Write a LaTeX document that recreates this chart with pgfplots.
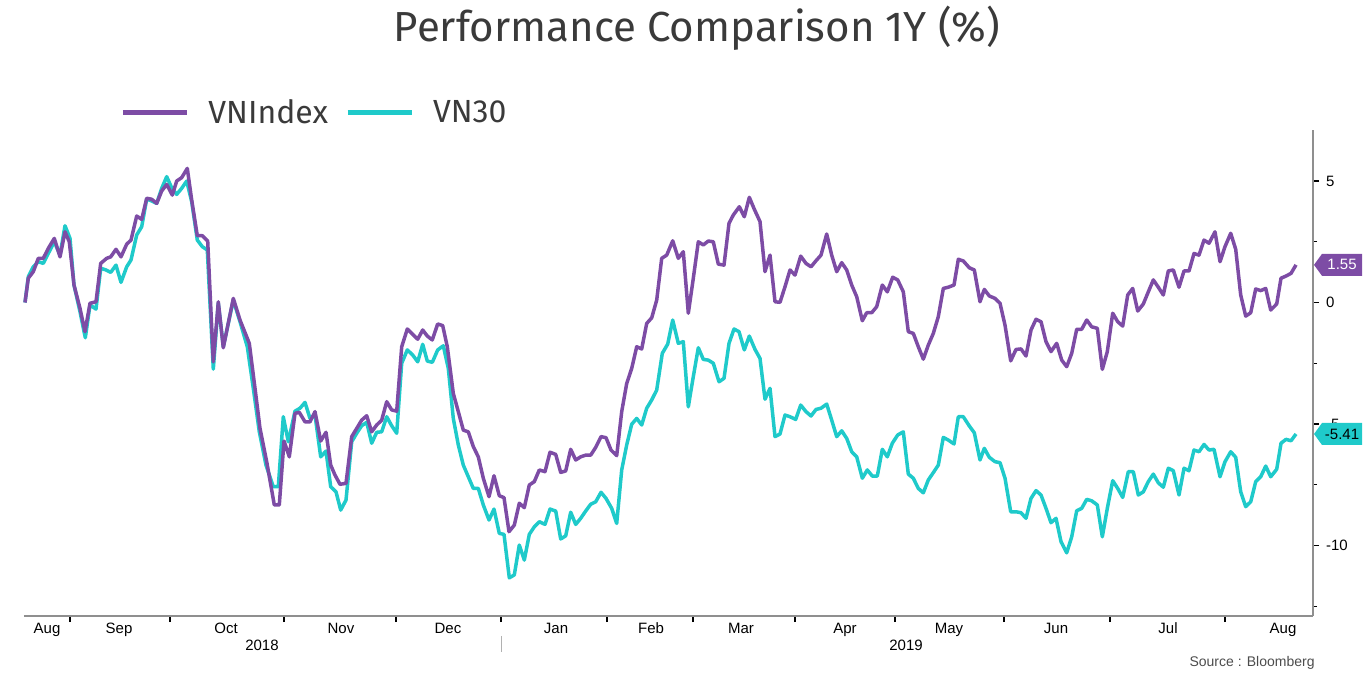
\documentclass[border=0pt]{standalone}
\usepackage{fontspec}
\setmainfont{Liberation Sans}
\newfontfamily\titlefont{Fira Sans}
\usepackage{pgfplots}
\pgfplotsset{compat=1.18}
\definecolor{vnpurple}{HTML}{7D4CA5}
\definecolor{vncyan}{HTML}{1FCACA}
\definecolor{axisgray}{HTML}{8F8F8F}
\definecolor{titlegray}{HTML}{3A3A3A}

\begin{document}
\begin{tikzpicture}
\useasboundingbox (0,0) rectangle (684.5pt,342.5pt);
\node[font=\titlefont\fontsize{21}{25}\selectfont, text=titlegray] at (348.5pt,328.5pt) {Performance Comparison 1Y (\%)};
\node[font=\fontsize{7}{8}\selectfont, text=black!70, anchor=east, inner sep=0pt] at (657.5pt,11pt) {Source : Bloomberg};
\begin{axis}[
  at={(12pt,34.5pt)}, anchor=south west,
  width=644.5pt, height=243pt, scale only axis,
  xmin=0, xmax=1289, ymin=-12.9, ymax=7.1,
  axis x line*=bottom, axis y line*=right,
  axis line style={axisgray, line width=0.8pt},
  tick align=outside,
  major tick length=3pt, minor tick length=2pt,
  tick style={black, line width=0.6pt},
  xtick={46,146,260,372,477,583,669,771,871,980,1086,1201},
  xticklabels={},
  extra x ticks={23,95,202,317,424,532,627,717,821,925,1032,1144,1259},
  extra x tick labels={Aug,Sep,Oct,Nov,Dec,Jan,Feb,Mar,Apr,May,Jun,Jul,Aug},
  extra x tick style={major tick length=0pt},
  ytick={-10,-5,0,5}, yticklabels={-10,-5,0,5},
  minor ytick={-12.5,-7.5,-2.5,2.5},
  tick label style={font=\fontsize{7.5}{9}\selectfont},
  clip=false,
  legend columns=-1, reverse legend,
  legend style={draw=none, fill=none, at={(0.0745,1.035)}, anchor=west,
    inner sep=0pt, nodes={inner sep=0pt},
    font=\titlefont\fontsize{16}{19}\selectfont, text=titlegray,
    column sep=9.5pt, /tikz/every even column/.append style={column sep=8.5pt}},
  legend image code/.code={\draw[#1, line width=2.5pt] (0pt,0pt) -- (32pt,0pt);},
]
% VN30
\addplot[vncyan, line width=1.75pt, line join=round] coordinates {
(1,0.00) (4.3,1.06) (9.3,1.47) (14.3,1.68) (19.3,1.61) (24.3,2.02) (30.3,2.50) (36,1.95) (41,3.16) (46,2.64)
(50,0.72) (56,-0.38) (61.3,-1.45) (66,-0.10) (72,-0.27) (76.7,1.41) (82,1.34) (86.7,1.24) (92,1.54) (97,0.83)
(102.7,1.47) (107,1.75) (112.7,2.78) (117.7,3.12) (122.7,4.26) (127.7,4.18) (132.7,4.08) (137.7,4.70) (142.7,5.18) (147.7,4.72)
(152.7,4.45) (157.7,4.70) (162.7,5.00) (167.7,4.15) (173.3,2.57) (178.3,2.30) (183.3,2.16) (189.3,-2.74) (194.3,-0.03) (199.3,-1.82)
(209.3,0.10) (216,-0.79) (223.3,-1.82) (229.3,-3.53) (235.3,-5.32) (242,-6.69) (249.3,-7.58) (254.3,-7.58) (259.3,-4.70) (264.3,-5.73)
(271,-4.47) (276,-4.35) (281,-4.11) (286,-4.77) (291,-4.63) (296.7,-6.35) (302,-6.11) (306.7,-7.58) (312,-7.79) (316.7,-8.54)
(322,-8.13) (327.7,-5.73) (332.7,-5.38) (337.7,-5.07) (342.7,-4.93) (347.7,-5.79) (352.7,-5.34) (357.7,-5.32) (362.7,-4.70) (367.7,-5.07)
(372.7,-5.38) (377.7,-2.50) (383.3,-1.95) (388.7,-2.16) (393.7,-2.44) (398.7,-1.72) (403.3,-2.41) (408.3,-2.46) (413.7,-1.95) (419.3,-1.78)
(424.3,-2.71) (429.3,-4.77) (434.3,-5.86) (439.3,-6.69) (444.3,-7.17) (449.3,-7.65) (454.3,-7.65) (459.3,-8.33) (465,-8.95) (470,-8.50)
(475.3,-9.50) (480,-9.54) (485.3,-11.33) (490.3,-11.21) (495.3,-9.98) (500.3,-10.60) (505.3,-9.54) (510.3,-9.23) (515.3,-9.02) (521,-9.13)
(526,-8.50) (531.7,-8.58) (536.7,-9.73) (541.7,-9.60) (546.7,-8.63) (551.7,-9.13) (556.7,-8.88) (561.7,-8.58) (566.7,-8.30) (571.7,-8.20)
(577,-7.81) (582,-8.06) (587.7,-8.47) (592.7,-9.09) (597.7,-6.89) (602.7,-5.86) (607.7,-5.01) (612.7,-4.77) (617.7,-5.04) (622.7,-4.35)
(627.7,-4.01) (632.7,-3.60) (638.3,-2.09) (643.7,-1.71) (648.7,-0.72) (654.3,-1.68) (659.3,-1.61) (664.3,-4.29) (669.3,-3.05) (674.3,-1.86)
(679.3,-2.34) (684.3,-2.37) (689.3,-2.50) (695,-3.26) (700,-3.12) (705,-1.68) (710,-1.09) (715,-1.20) (720.3,-1.95) (725.3,-1.38)
(731,-1.93) (736,-2.30) (741,-3.98) (746,-3.53) (751,-5.52) (756,-5.41) (761,-4.63) (766,-4.70) (771.7,-4.81) (776.7,-4.22)
(782,-4.49) (787,-4.67) (792,-4.40) (797,-4.35) (802.7,-4.18) (807.7,-4.84) (812.7,-5.52) (817.7,-5.28) (822.7,-5.59) (827.7,-6.14)
(832.7,-6.35) (838.3,-7.23) (843.3,-6.89) (848.3,-7.14) (853.3,-7.14) (858.3,-6.04) (863.3,-6.35) (868.3,-5.79) (873.7,-5.45) (879.3,-5.32)
(884.3,-7.06) (889.3,-7.23) (894.3,-7.65) (899.3,-7.83) (904.3,-7.30) (909.3,-7.00) (914.3,-6.69) (919.3,-5.55) (924.3,-5.66) (930,-5.82)
(934.3,-4.70) (939.3,-4.70) (945.3,-5.08) (950.3,-5.36) (956,-6.48) (960.3,-6.00) (965.3,-6.37) (971,-6.55) (976,-6.59) (981,-7.23)
(986.7,-8.61) (992,-8.61) (997,-8.65) (1002,-8.88) (1007,-8.06) (1012,-7.74) (1017,-7.92) (1022,-8.47) (1027,-9.06) (1032,-8.88)
(1037,-9.84) (1042.7,-10.30) (1047.7,-9.64) (1052.7,-8.57) (1057.7,-8.47) (1062.7,-8.10) (1067.7,-8.16) (1073.3,-8.33) (1078.3,-9.64) (1083.3,-8.47)
(1088.7,-7.33) (1093.7,-7.65) (1098.7,-8.02) (1104.3,-6.96) (1109.3,-6.96) (1114.3,-7.92) (1119.3,-7.79) (1124.3,-7.37) (1129.3,-7.06) (1134.3,-7.42)
(1139.3,-7.60) (1144.3,-6.82) (1149.3,-6.92) (1155,-7.92) (1160,-6.82) (1165,-6.92) (1170,-6.07) (1175,-6.14) (1180,-5.84) (1185,-6.07)
(1190,-6.04) (1196,-7.17) (1201,-6.55) (1206.7,-6.14) (1211.7,-6.37) (1216.7,-7.79) (1221.7,-8.40) (1226.7,-8.20) (1231.7,-7.37) (1236.7,-7.17)
(1241.7,-6.73) (1246.7,-7.17) (1252.7,-6.86) (1257,-5.79) (1262,-5.63) (1267,-5.69) (1272,-5.41)
};
\addlegendentry{VN30}
% VNIndex
\addplot[vnpurple, line width=1.75pt, line join=round] coordinates {
(1,0.00) (4.3,1.00) (9.3,1.27) (14.3,1.82) (19.3,1.82) (24.3,2.23) (30.3,2.64) (36,1.88) (41,2.91) (45.3,2.50)
(50,0.72) (56,-0.24) (61,-1.20) (66,-0.03) (72,0.03) (76.7,1.61) (82.7,1.82) (86.7,1.88) (92,2.19) (97,1.88)
(102.7,2.40) (107,2.57) (112.7,3.56) (117.7,3.42) (122.7,4.29) (127.7,4.25) (132.7,4.08) (137.7,4.59) (142.7,4.86) (148.3,4.42)
(152.7,5.00) (157.7,5.14) (163.3,5.52) (167.7,4.22) (173.3,2.75) (178.3,2.75) (183.7,2.53) (189.3,-2.44) (194.3,0.03) (199.3,-1.86)
(209.3,0.17) (216,-0.72) (225.3,-1.68) (231,-3.53) (236,-5.18) (242.7,-6.55) (250.3,-8.33) (255.3,-8.33) (260,-5.70) (265.3,-6.35)
(271,-4.56) (275.3,-4.52) (281,-4.91) (286,-4.91) (291,-4.49) (296.7,-5.70) (302,-5.34) (306.7,-6.69) (311,-7.10) (316,-7.48)
(322,-7.44) (327.7,-5.52) (332.7,-5.18) (337.7,-4.84) (342.7,-4.66) (347.7,-5.32) (352.7,-5.04) (357.7,-4.84) (362.7,-4.08) (367.7,-4.42)
(372.7,-4.47) (377.7,-1.82) (383.3,-1.09) (388.7,-1.31) (393.7,-1.51) (398.7,-1.13) (403.3,-1.38) (408.3,-1.54) (413.7,-0.88) (418.7,-0.95)
(423.3,-1.82) (429.3,-3.74) (434.3,-4.49) (439.3,-5.25) (444.3,-5.32) (449.3,-5.93) (454.3,-6.35) (459.3,-7.23) (465,-7.99) (470,-7.13)
(475.3,-7.95) (480,-8.03) (485,-9.43) (490.3,-9.16) (495.3,-8.26) (500.3,-8.44) (505.3,-7.51) (510.3,-7.37) (515.3,-6.89) (521,-6.96)
(526,-6.16) (531.7,-6.25) (536.7,-6.99) (541.7,-6.93) (546.7,-6.04) (551.7,-6.48) (556.7,-6.35) (561.7,-6.28) (566.7,-6.28) (571.7,-5.96)
(577,-5.52) (582,-5.56) (587,-6.07) (592.7,-6.30) (597.7,-4.49) (602.7,-3.33) (607.7,-2.71) (612.7,-1.82) (617.7,-1.91) (622.7,-0.86)
(627.7,-0.63) (632.7,0.10) (637.7,1.82) (642.7,1.95) (648.7,2.54) (654.3,1.82) (659.3,2.09) (664.3,-0.44) (669.3,1.00) (674.3,2.50)
(679.3,2.37) (684.3,2.53) (689.3,2.50) (694.3,1.58) (700,1.54) (705,3.26) (709.3,3.60) (715.3,3.94) (720.3,3.53) (725.3,4.33)
(730.3,3.84) (736,3.33) (741,1.27) (746,1.95) (751,0.03) (756,0.01) (761,0.65) (766,1.34) (771,1.13) (776.7,1.91)
(782,1.61) (787,1.47) (792,1.72) (797,1.95) (802.7,2.82) (807.7,1.95) (812.7,1.27) (817.7,1.64) (822.7,1.34) (827.7,0.72)
(832.7,0.24) (838.3,-0.75) (842.7,-0.42) (847.7,-0.42) (852.7,-0.17) (858.3,0.72) (863.3,0.44) (868.7,1.04) (873.7,0.93) (879.3,0.44)
(884.3,-1.20) (889.3,-1.27) (894.3,-1.82) (899.3,-2.33) (904.3,-1.75) (909.3,-1.27) (914.3,-0.58) (919.3,0.58) (924.3,0.63) (930,0.72)
(934.3,1.78) (939.3,1.71) (945.3,1.43) (950.3,1.34) (956,0.03) (960.3,0.54) (965.3,0.27) (971,0.17) (976,-0.03) (981,-0.93)
(986.7,-2.40) (992,-1.93) (997,-1.91) (1002,-2.20) (1007,-1.13) (1012,-0.69) (1017,-0.79) (1022,-1.61) (1027,-2.02) (1032.7,-1.68)
(1037.7,-2.37) (1042.7,-2.64) (1047.7,-2.09) (1052.7,-1.10) (1057.7,-1.10) (1062.7,-0.72) (1067.7,-1.00) (1073.3,-1.06) (1078.3,-2.75) (1083.3,-2.02)
(1088.7,-0.44) (1093.7,-0.79) (1098.7,-0.97) (1103.7,0.31) (1108.7,0.58) (1113.7,-0.35) (1119.3,-0.06) (1124.3,0.44) (1129.3,0.93) (1134.3,0.63)
(1139.3,0.31) (1144.3,1.30) (1149.3,1.34) (1155,0.63) (1160,1.30) (1165,1.30) (1170,2.02) (1175,1.95) (1180,2.57) (1185,2.44)
(1191,2.91) (1196,1.68) (1201,2.30) (1206.7,2.85) (1211.7,2.19) (1216.7,0.31) (1221.7,-0.56) (1226.7,-0.42) (1231.7,0.56) (1236.7,0.49)
(1241.7,0.58) (1246.7,-0.31) (1252.7,-0.06) (1257,1.00) (1262,1.09) (1267,1.20) (1272,1.55)
};
\addlegendentry{VNIndex}
% last-value tags on the right axis
\fill[vnpurple] (axis cs:1290,1.55) -- ++(4pt,5.5pt) -- ++(20pt,0pt) -- ++(0pt,-11pt) -- ++(-20pt,0pt) -- cycle;
\node[text=white, font=\fontsize{7.5}{9}\selectfont, inner sep=0pt] at ([xshift=14pt]axis cs:1290,1.55) {1.55};
\fill[vncyan] (axis cs:1290,-5.41) -- ++(4pt,5.5pt) -- ++(20pt,0pt) -- ++(0pt,-11pt) -- ++(-20pt,0pt) -- cycle;
\node[text=black, font=\fontsize{7.5}{9}\selectfont, inner sep=0pt] at ([xshift=14pt]axis cs:1290,-5.41) {-5.41};
% years
\node[font=\fontsize{7.5}{9}\selectfont] at (axis cs:238,-14.09) {2018};
\node[font=\fontsize{7.5}{9}\selectfont] at (axis cs:882,-14.09) {2019};
\draw[axisgray!70, line width=0.5pt] (axis cs:477,-13.72) -- (axis cs:477,-14.38);
\end{axis}
\end{tikzpicture}
\end{document}
